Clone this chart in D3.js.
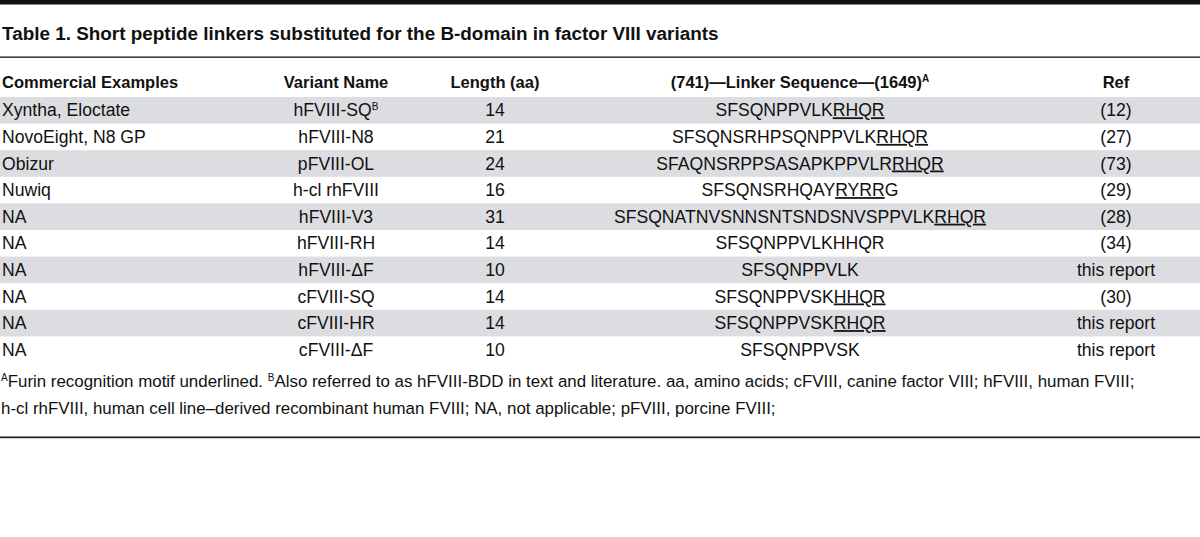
<!DOCTYPE html>
<html lang="en">
<head>
<meta charset="utf-8">
<title>Table 1</title>
<script src="https://cdn.jsdelivr.net/npm/d3@7"></script>
<style>
    html, body { margin: 0; padding: 0; background: #fff; }
    svg { display: block; font-family: "Liberation Sans", Arial, sans-serif; }
    .hdr { font-weight: bold; }
</style>
</head>
<body>
<div id="chart"></div>
<script>
// table content
var commercial = ["Xyntha, Eloctate", "NovoEight, N8 GP", "Obizur", "Nuwiq", "NA", "NA", "NA", "NA", "NA", "NA"];
var variants = ["hFVIII-SQ", "hFVIII-N8", "pFVIII-OL", "h-cl rhFVIII", "hFVIII-V3", "hFVIII-RH", "hFVIII-\u0394F", "cFVIII-SQ", "cFVIII-HR", "cFVIII-\u0394F"];
var variantSup = ["B", "", "", "", "", "", "", "", "", ""];
var lengths = [14, 21, 24, 16, 31, 14, 10, 14, 14, 10];
// [underlined part] marks the furin motif
var sequences = ["SFSQNPPVLK[RHQR]", "SFSQNSRHPSQNPPVLK[RHQR]", "SFAQNSRPPSASAPKPPVLR[RHQR]",
    "SFSQNSRHQAY[RYRR]G", "SFSQNATNVSNNSNTSNDSNVSPPVLK[RHQR]", "SFSQNPPVLKHHQR",
    "SFSQNPPVLK", "SFSQNPPVSK[HHQR]", "SFSQNPPVSK[RHQR]", "SFSQNPPVSK"];
var refs = ["(12)", "(27)", "(73)", "(29)", "(28)", "(34)", "this report", "(30)", "this report", "this report"];
var headers = ["Commercial Examples", "Variant Name", "Length (aa)", "(741)\u2014Linker Sequence\u2014(1649)", "Ref"];
var title = "Table 1. Short peptide linkers substituted for the B-domain in factor VIII variants";
var footLines = [
    [["A", true], ["Furin recognition motif underlined. ", false], ["B", true],
     ["Also referred to as hFVIII-BDD in text and literature. aa, amino acids; cFVIII, canine factor VIII; hFVIII, human FVIII;", false]],
    [["h-cl rhFVIII, human cell line\u2013derived recombinant human FVIII; NA, not applicable; pFVIII, porcine FVIII;", false]]
];

var W = 1200, H = 537;
var colX = [2, 336, 495, 800, 1116];
var colAnchor = ["start", "middle", "middle", "middle", "middle"];
var fs = 17.6;

var svg = d3.select("#chart").append("svg").attr("width", W).attr("height", H);

var rows = d3.range(commercial.length);
var y = d3.scaleBand().domain(rows).range([97, 363]).padding(0);

// top bar and rule under title
svg.append("rect").attr("x", 0).attr("y", 0).attr("width", W).attr("height", 4.5).attr("fill", "#111");
svg.append("text").attr("x", 2).attr("y", 39.5).attr("class", "hdr")
    .attr("font-size", 18.9).attr("fill", "#111").text(title);
svg.append("rect").attr("x", 0).attr("y", 56.5).attr("width", W).attr("height", 1.3).attr("fill", "#111");

// header row
var hdr = svg.append("g").attr("class", "hdr").attr("font-size", 16.5).attr("fill", "#111");
headers.forEach(function(h, i) {
    var t = hdr.append("text").attr("x", colX[i]).attr("y", 88).attr("text-anchor", colAnchor[i]).text(h);
    if (i === 3) t.append("tspan").attr("font-size", 10).attr("dy", -6).text("A");
});

// stripes
svg.append("g").selectAll("rect")
    .data(rows.filter(function(d) { return d % 2 === 0; }))
    .join("rect")
    .attr("x", 0).attr("width", W)
    .attr("y", function(d) { return y(d); })
    .attr("height", y.bandwidth())
    .attr("fill", "#dcdde0");

// body cells
var body = svg.append("g").attr("font-size", fs).attr("fill", "#111");
rows.forEach(function(r) {
    var ty = y(r) + y.bandwidth() / 2 + 6;
    body.append("text").attr("x", colX[0]).attr("y", ty).text(commercial[r]);
    var v = body.append("text").attr("x", colX[1]).attr("y", ty).attr("text-anchor", "middle").text(variants[r]);
    if (variantSup[r]) v.append("tspan").attr("font-size", 10).attr("dy", -6).text(variantSup[r]);
    body.append("text").attr("x", colX[2]).attr("y", ty).attr("text-anchor", "middle").text(lengths[r]);
    var s = body.append("text").attr("x", colX[3]).attr("y", ty).attr("text-anchor", "middle");
    sequences[r].split(/(\[[A-Z]+\])/).filter(function(p) { return p.length; }).forEach(function(p) {
        if (p[0] === "[") s.append("tspan").style("text-decoration", "underline").text(p.slice(1, -1));
        else s.append("tspan").text(p);
    });
    body.append("text").attr("x", colX[4]).attr("y", ty).attr("text-anchor", "middle").text(refs[r]);
});

// footnotes
var foot = svg.append("g").attr("font-size", 16.9).attr("fill", "#111");
footLines.forEach(function(line, i) {
    var t = foot.append("text").attr("x", 1).attr("y", 387 + i * 26.5);
    line.forEach(function(seg) {
        if (seg[1]) t.append("tspan").attr("font-size", 10).attr("dy", -6).text(seg[0]);
        else t.append("tspan").attr("dy", 6).text(seg[0]);
    });
    // undo the leading dy on lines that start with normal text
    if (!line[0][1]) t.select("tspan").attr("dy", 0);
});

// bottom rule
svg.append("rect").attr("x", 0).attr("y", 436).attr("width", W).attr("height", 1).attr("fill", "#888");
svg.append("rect").attr("x", 0).attr("y", 437).attr("width", W).attr("height", 1.2).attr("fill", "#222");
</script>
</body>
</html>
